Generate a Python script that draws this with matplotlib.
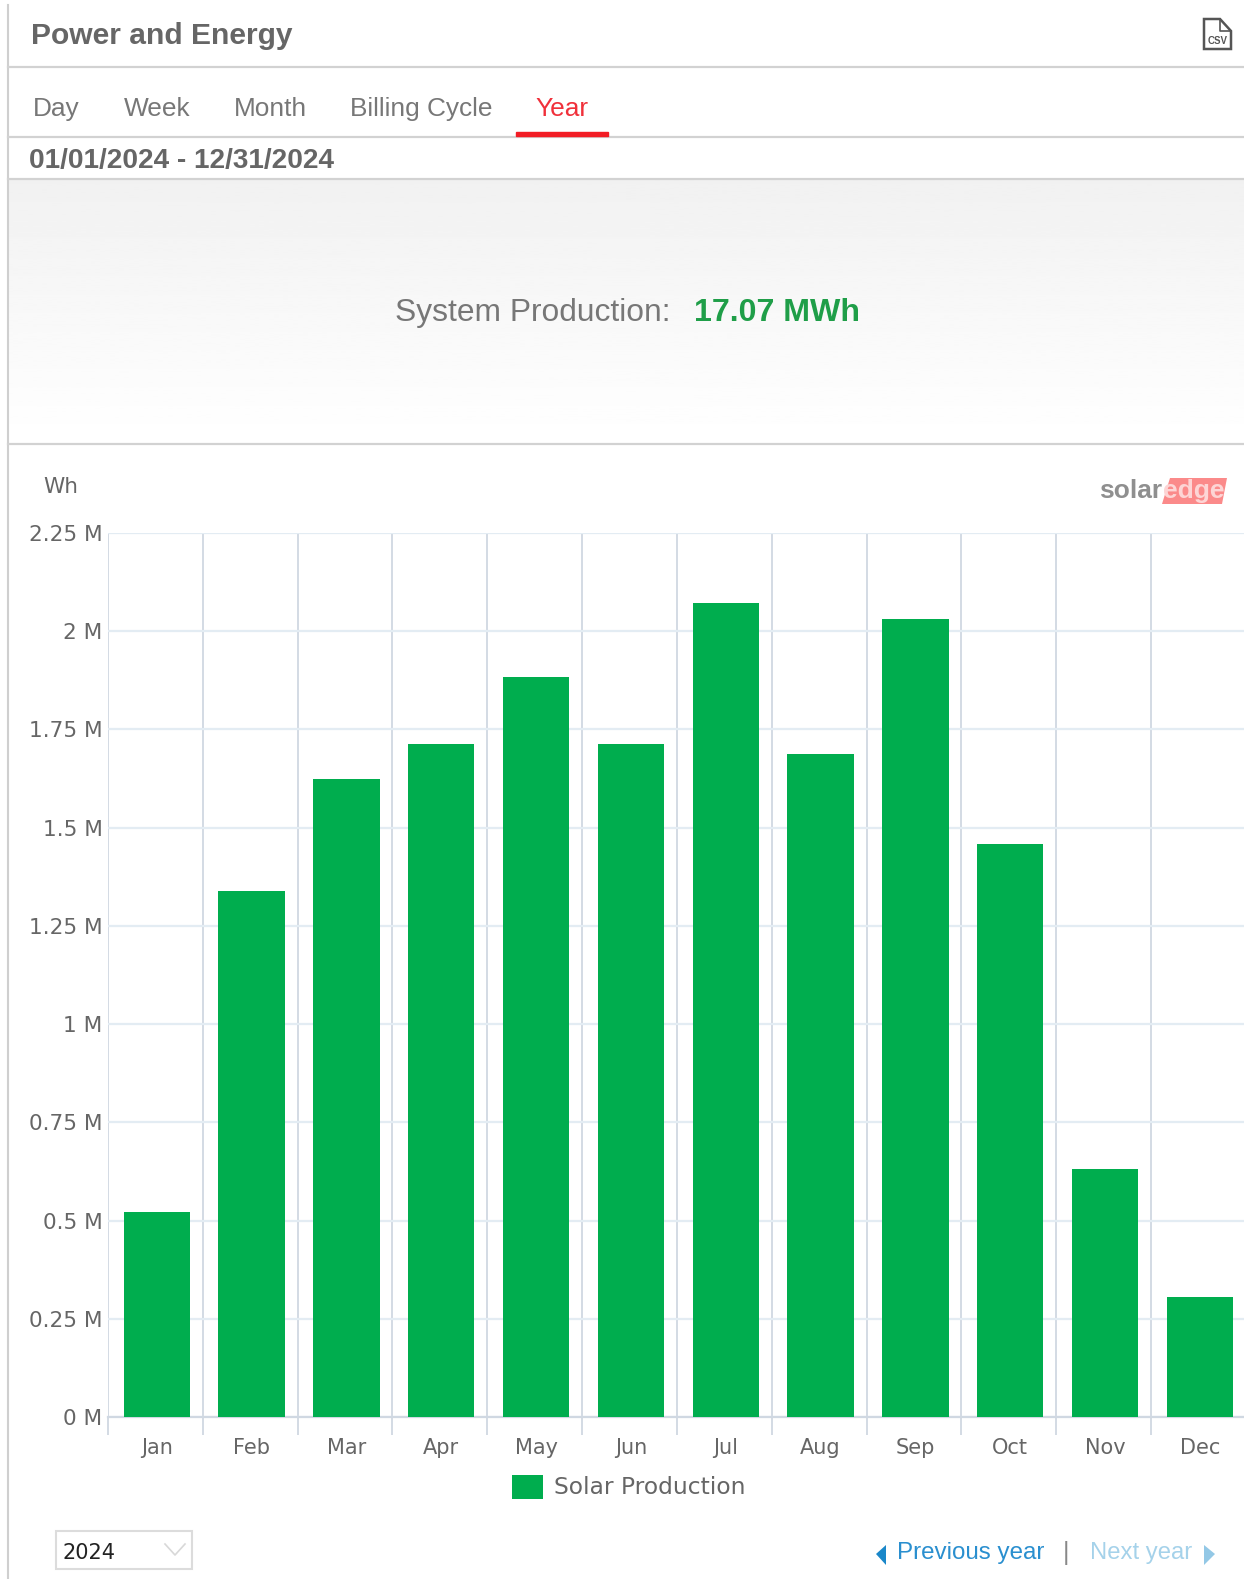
import numpy as np
import matplotlib
matplotlib.use("Agg")
import matplotlib.pyplot as plt
from matplotlib.patches import Polygon, Rectangle

months = ["Jan", "Feb", "Mar", "Apr", "May", "Jun", "Jul", "Aug", "Sep", "Oct", "Nov", "Dec"]
production = [0.523, 1.338, 1.625, 1.712, 1.884, 1.712, 2.073, 1.687, 2.032, 1.458, 0.630, 0.305]
y_ticks = [0, 0.25, 0.5, 0.75, 1, 1.25, 1.5, 1.75, 2, 2.25]
y_labels = ["0 M", "0.25 M", "0.5 M", "0.75 M", "1 M", "1.25 M", "1.5 M", "1.75 M", "2 M", "2.25 M"]
tabs = ["Day", "Week", "Month", "Billing Cycle", "Year"]
tab_x = [33, 124, 234, 350, 535]

W, H = 1244, 1579
HEAD = "Liberation Sans"
AXF = "DejaVu Sans"
GREY = "#666666"
GREEN = "#00ad4e"

fig = plt.figure(figsize=(W / 100, H / 100), dpi=100, facecolor="white")

# page chrome, drawn in pixel coordinates
ui = fig.add_axes([0, 0, 1, 1])
ui.set_xlim(0, W)
ui.set_ylim(H, 0)
ui.axis("off")

grad = np.linspace(0.945, 1.0, 100).reshape(-1, 1)
ui.imshow(grad, extent=(9, W, 444, 180), cmap="gray", vmin=0, vmax=1, aspect="auto", zorder=0)
ui.set_xlim(0, W)
ui.set_ylim(H, 0)

ui.plot([8, 8], [5, H], color="#cfcfcf", lw=1.5)
for yy in [67, 137, 179, 444]:
    ui.plot([8, W], [yy, yy], color="#d2d2d2", lw=1.6)

ui.text(31, 36, "Power and Energy", family=HEAD, weight="bold", fontsize=21.6, color=GREY, va="center")
for name, xx in zip(tabs, tab_x):
    col = "#f0303a" if name == "Year" else "#777777"
    ui.text(xx, 109, name, family=HEAD, fontsize=18.9, color=col, va="center")
ui.add_patch(Rectangle((516, 132), 92, 4, color="#f21c24", zorder=3))
ui.text(29, 161, "01/01/2024 - 12/31/2024", family=HEAD, weight="bold", fontsize=20.2, color=GREY, va="center")

ui.text(395, 313, "System Production:", family=HEAD, fontsize=22.9, color="#777777", va="center")
ui.text(694, 313, "17.07 MWh", family=HEAD, weight="bold", fontsize=23.1, color="#1f9e48", va="center")

# csv icon
ui.add_patch(Polygon([[1204, 19], [1220, 19], [1231, 31], [1231, 49], [1204, 49]], closed=True,
                     fc="white", ec="#555555", lw=1.8))
ui.plot([1220, 1220, 1231], [19, 31, 31], color="#555555", lw=1.2)
ui.text(1217.5, 41, "CSV", family=HEAD, weight="bold", fontsize=7, color="#555555", ha="center", va="center")

ui.text(43, 487, "Wh", family=AXF, fontsize=15.5, color=GREY, va="center")

# logo
ui.text(1099, 491, "solar", family=HEAD, weight="bold", fontsize=19, color="#8f8f8f", va="center")
ui.add_patch(Polygon([[1170, 478], [1227, 478], [1222, 504], [1162, 504]], closed=True, fc="#fb8a8a", ec="none"))
ui.text(1194, 491, "edge", family=HEAD, weight="bold", fontsize=19, color="#fdd5d5", ha="center", va="center")

# chart
ax = fig.add_axes([108 / W, 1 - 1417 / H, (W - 108) / W, (1417 - 533) / H])
ax.patch.set_alpha(0)
x = np.arange(len(months)) + 0.015
ax.bar(x, production, width=0.70, color=GREEN, label="Solar Production", zorder=3)
ax.set_xlim(-0.5, 11.48)
ax.set_ylim(0, 2.25)
ax.set_yticks(y_ticks)
ax.set_yticklabels(y_labels, family=AXF, fontsize=15.6, color=GREY)
ax.set_xticks(x)
ax.set_xticklabels(months, family=AXF, fontsize=15, color=GREY)
ax.grid(axis="y", color="#e3ecf3", lw=1.6, zorder=0)
ax.set_xticks(np.arange(-0.5, 11.5, 1), minor=True)
ax.grid(axis="x", which="minor", color="#d0d8e2", lw=1.3, zorder=1)
ax.tick_params(axis="y", length=0, pad=4)
ax.tick_params(axis="x", which="major", length=0, pad=15)
ax.tick_params(axis="x", which="minor", length=13, width=1.3, color="#d0d8e2")
for s in ["top", "right", "left"]:
    ax.spines[s].set_visible(False)
ax.spines["bottom"].set_color("#d0d8e2")
ax.spines["bottom"].set_linewidth(1.6)

leg = ax.legend(loc="center", bbox_to_anchor=(629 / W, 1 - 1487 / H), bbox_transform=fig.transFigure,
                frameon=False, handlelength=1.32, handleheight=1.2, handletextpad=0.47,
                prop={"family": AXF, "size": 16.8})
for t in leg.get_texts():
    t.set_color(GREY)

# year selector and pager
ui.add_patch(Rectangle((56, 1531), 136, 38, fc="white", ec="#dcdcdc", lw=1.5))
ui.text(62, 1553, "2024", family=AXF, fontsize=15, color="#222222", va="center")
ui.plot([165, 175, 185], [1544, 1555, 1544], color="#d8d8d8", lw=1.2)

ui.add_patch(Polygon([[886, 1545], [876, 1554], [886, 1565]], closed=True, fc="#1a87c9", ec="none"))
ui.text(897, 1553, "Previous year", family=HEAD, fontsize=17.4, color="#2a8fcf", va="center")
ui.text(1066, 1553, "|", family=HEAD, fontsize=18, color="#888888", va="center", ha="center")
ui.text(1090, 1553, "Next year", family=HEAD, fontsize=17.2, color="#a5d2ea", va="center")
ui.add_patch(Polygon([[1204, 1545], [1215, 1554], [1204, 1565]], closed=True, fc="#93c8e6", ec="none"))

fig.savefig("out.png", dpi=100)
